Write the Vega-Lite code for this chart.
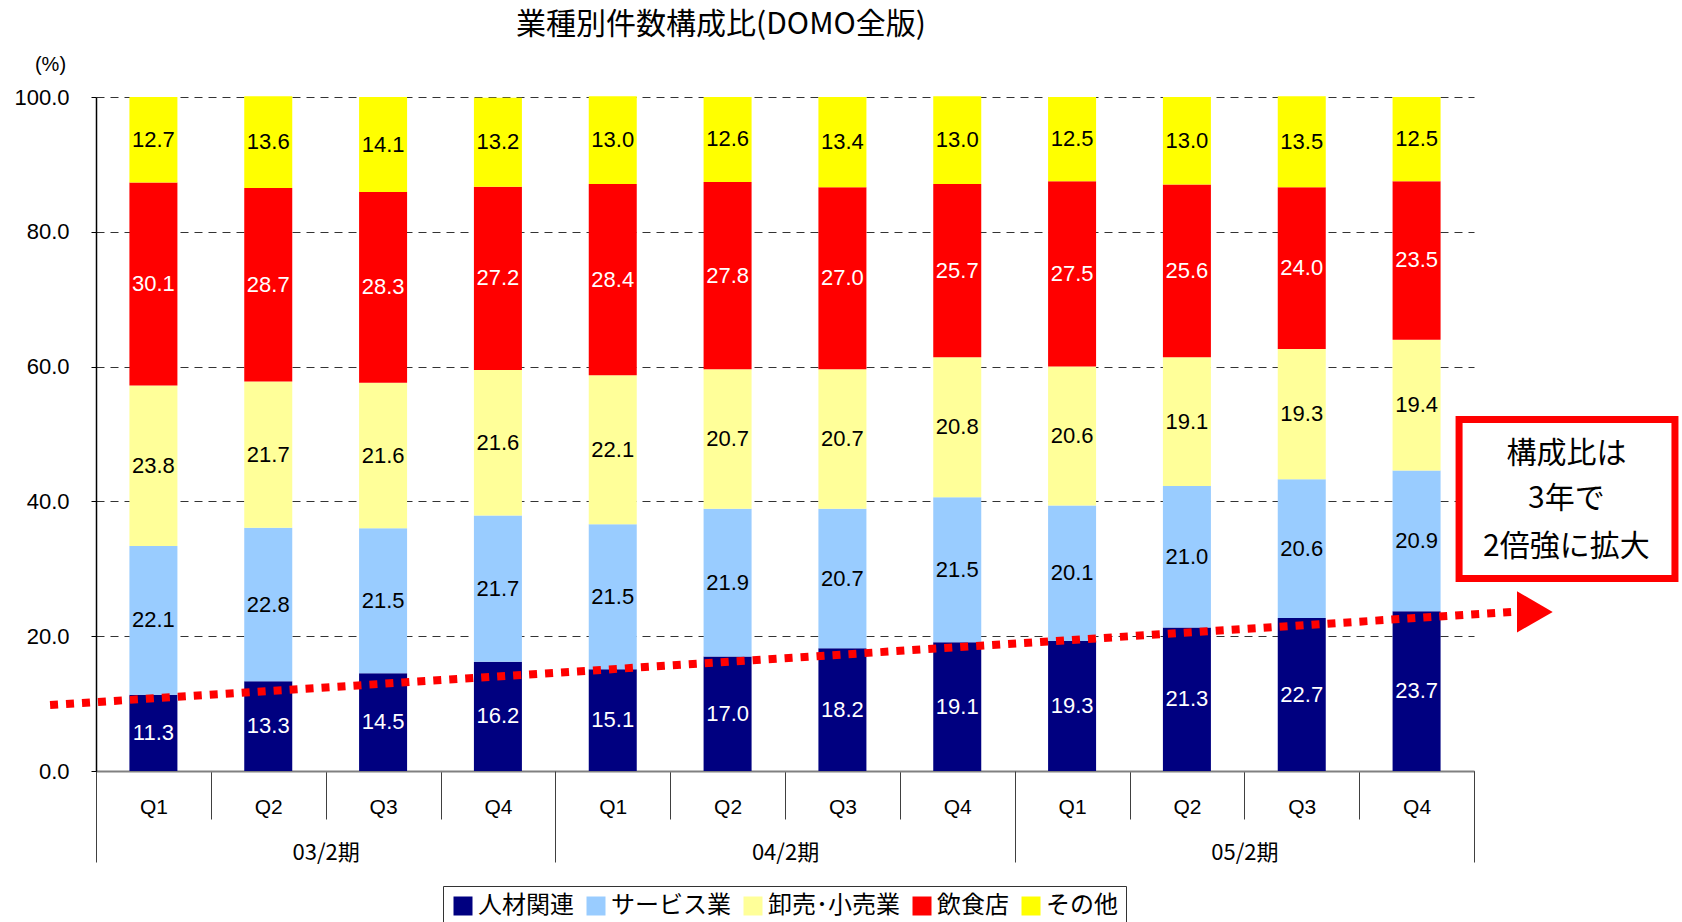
{
  "$schema": "https://vega.github.io/schema/vega-lite/v6.json",
  "autosize": {"type": "none"},
  "width": 1378,
  "height": 674,
  "padding": {"left": 96, "top": 97, "right": 208, "bottom": 151},
  "background": "white",
  "title": {"text": "業種別件数構成比(DOMO全版)", "font": "Noto Sans CJK JP", "fontSize": 30, "fontWeight": "normal", "color": "black", "anchor": "middle", "frame": "group", "dx": -64, "offset": -16, "baseline": "bottom"},
  "datasets": {
    "bars": [
      {"key": "03/2期 Q1", "cat": "人材関連", "o": 1, "value": 11.3},
      {"key": "03/2期 Q1", "cat": "サービス業", "o": 2, "value": 22.1},
      {"key": "03/2期 Q1", "cat": "卸売･小売業", "o": 3, "value": 23.8},
      {"key": "03/2期 Q1", "cat": "飲食店", "o": 4, "value": 30.1},
      {"key": "03/2期 Q1", "cat": "その他", "o": 5, "value": 12.7},
      {"key": "03/2期 Q2", "cat": "人材関連", "o": 1, "value": 13.3},
      {"key": "03/2期 Q2", "cat": "サービス業", "o": 2, "value": 22.8},
      {"key": "03/2期 Q2", "cat": "卸売･小売業", "o": 3, "value": 21.7},
      {"key": "03/2期 Q2", "cat": "飲食店", "o": 4, "value": 28.7},
      {"key": "03/2期 Q2", "cat": "その他", "o": 5, "value": 13.6},
      {"key": "03/2期 Q3", "cat": "人材関連", "o": 1, "value": 14.5},
      {"key": "03/2期 Q3", "cat": "サービス業", "o": 2, "value": 21.5},
      {"key": "03/2期 Q3", "cat": "卸売･小売業", "o": 3, "value": 21.6},
      {"key": "03/2期 Q3", "cat": "飲食店", "o": 4, "value": 28.3},
      {"key": "03/2期 Q3", "cat": "その他", "o": 5, "value": 14.1},
      {"key": "03/2期 Q4", "cat": "人材関連", "o": 1, "value": 16.2},
      {"key": "03/2期 Q4", "cat": "サービス業", "o": 2, "value": 21.7},
      {"key": "03/2期 Q4", "cat": "卸売･小売業", "o": 3, "value": 21.6},
      {"key": "03/2期 Q4", "cat": "飲食店", "o": 4, "value": 27.2},
      {"key": "03/2期 Q4", "cat": "その他", "o": 5, "value": 13.2},
      {"key": "04/2期 Q1", "cat": "人材関連", "o": 1, "value": 15.1},
      {"key": "04/2期 Q1", "cat": "サービス業", "o": 2, "value": 21.5},
      {"key": "04/2期 Q1", "cat": "卸売･小売業", "o": 3, "value": 22.1},
      {"key": "04/2期 Q1", "cat": "飲食店", "o": 4, "value": 28.4},
      {"key": "04/2期 Q1", "cat": "その他", "o": 5, "value": 13.0},
      {"key": "04/2期 Q2", "cat": "人材関連", "o": 1, "value": 17.0},
      {"key": "04/2期 Q2", "cat": "サービス業", "o": 2, "value": 21.9},
      {"key": "04/2期 Q2", "cat": "卸売･小売業", "o": 3, "value": 20.7},
      {"key": "04/2期 Q2", "cat": "飲食店", "o": 4, "value": 27.8},
      {"key": "04/2期 Q2", "cat": "その他", "o": 5, "value": 12.6},
      {"key": "04/2期 Q3", "cat": "人材関連", "o": 1, "value": 18.2},
      {"key": "04/2期 Q3", "cat": "サービス業", "o": 2, "value": 20.7},
      {"key": "04/2期 Q3", "cat": "卸売･小売業", "o": 3, "value": 20.7},
      {"key": "04/2期 Q3", "cat": "飲食店", "o": 4, "value": 27.0},
      {"key": "04/2期 Q3", "cat": "その他", "o": 5, "value": 13.4},
      {"key": "04/2期 Q4", "cat": "人材関連", "o": 1, "value": 19.1},
      {"key": "04/2期 Q4", "cat": "サービス業", "o": 2, "value": 21.5},
      {"key": "04/2期 Q4", "cat": "卸売･小売業", "o": 3, "value": 20.8},
      {"key": "04/2期 Q4", "cat": "飲食店", "o": 4, "value": 25.7},
      {"key": "04/2期 Q4", "cat": "その他", "o": 5, "value": 13.0},
      {"key": "05/2期 Q1", "cat": "人材関連", "o": 1, "value": 19.3},
      {"key": "05/2期 Q1", "cat": "サービス業", "o": 2, "value": 20.1},
      {"key": "05/2期 Q1", "cat": "卸売･小売業", "o": 3, "value": 20.6},
      {"key": "05/2期 Q1", "cat": "飲食店", "o": 4, "value": 27.5},
      {"key": "05/2期 Q1", "cat": "その他", "o": 5, "value": 12.5},
      {"key": "05/2期 Q2", "cat": "人材関連", "o": 1, "value": 21.3},
      {"key": "05/2期 Q2", "cat": "サービス業", "o": 2, "value": 21.0},
      {"key": "05/2期 Q2", "cat": "卸売･小売業", "o": 3, "value": 19.1},
      {"key": "05/2期 Q2", "cat": "飲食店", "o": 4, "value": 25.6},
      {"key": "05/2期 Q2", "cat": "その他", "o": 5, "value": 13.0},
      {"key": "05/2期 Q3", "cat": "人材関連", "o": 1, "value": 22.7},
      {"key": "05/2期 Q3", "cat": "サービス業", "o": 2, "value": 20.6},
      {"key": "05/2期 Q3", "cat": "卸売･小売業", "o": 3, "value": 19.3},
      {"key": "05/2期 Q3", "cat": "飲食店", "o": 4, "value": 24.0},
      {"key": "05/2期 Q3", "cat": "その他", "o": 5, "value": 13.5},
      {"key": "05/2期 Q4", "cat": "人材関連", "o": 1, "value": 23.7},
      {"key": "05/2期 Q4", "cat": "サービス業", "o": 2, "value": 20.9},
      {"key": "05/2期 Q4", "cat": "卸売･小売業", "o": 3, "value": 19.4},
      {"key": "05/2期 Q4", "cat": "飲食店", "o": 4, "value": 23.5},
      {"key": "05/2期 Q4", "cat": "その他", "o": 5, "value": 12.5}
    ],
    "years": [{"year": "03/2期"}, {"year": "04/2期"}, {"year": "05/2期"}],
    "trend": [{"pos": -0.40, "y": 9.8}, {"pos": 12.33, "y": 23.6}],
    "arrow": [{"pos": 12.53, "y": 23.6}],
    "box": [{"x1": 11.87, "x2": 13.75, "y1": 52.15, "y2": 28.56}],
    "note": [
      {"t": "構成比は", "pos": 12.805, "y": 47.0},
      {"t": "3年で", "pos": 12.805, "y": 40.4},
      {"t": "2倍強に拡大", "pos": 12.805, "y": 33.2}
    ]
  },
  "resolve": {"scale": {"x": "independent"}, "axis": {"x": "independent"}},
  "layer": [
    {
      "data": {"name": "bars"},
      "transform": [{"stack": "value", "groupby": ["key"], "sort": [{"field": "o", "order": "ascending"}], "as": ["v0", "v1"]}],
      "mark": {"type": "bar", "width": {"band": 0.418}},
      "encoding": {
        "x": {"field": "key", "type": "nominal", "sort": null, "scale": {"type": "band", "paddingInner": 0, "paddingOuter": 0},
          "axis": {"orient": "bottom", "title": null, "tickBand": "extent", "tickSize": 48, "tickColor": "#404040", "tickWidth": 1, "domainColor": "#808080", "domainWidth": 2, "labelExpr": "split(datum.value, ' ')[1]", "labelFont": "Liberation Sans", "labelFontSize": 21, "labelColor": "black", "labelPadding": -23, "labelAngle": 0, "grid": false}},
        "y": {"field": "v0", "type": "quantitative", "scale": {"domain": [0, 100], "nice": false}, "title": "(%)", "axis": {"values": [0, 20, 40, 60, 80, 100]}},
        "y2": {"field": "v1"},
        "color": {"field": "cat", "type": "nominal",
          "scale": {"domain": ["人材関連", "サービス業", "卸売･小売業", "飲食店", "その他"], "range": ["#000080", "#99CCFF", "#FFFF99", "#FF0000", "#FFFF00"]},
          "legend": {"orient": "none", "legendX": 347, "legendY": 789, "direction": "horizontal", "title": null, "symbolType": "square", "symbolSize": 361, "symbolStrokeWidth": 0, "symbolOpacity": 1, "labelFont": "Noto Sans CJK JP", "labelFontSize": 24, "labelColor": "black", "strokeColor": "#333333", "fillColor": "white", "padding": 8, "columnPadding": 10, "labelOffset": 3}}
      }
    },
    {
      "data": {"name": "trend"},
      "mark": {"type": "line", "color": "#FF0000", "strokeWidth": 8, "strokeDash": [8, 8], "clip": false},
      "encoding": {
        "x": {"field": "pos", "type": "quantitative", "scale": {"domain": [0, 12], "nice": false, "zero": false}, "axis": null},
        "y": {"field": "y", "type": "quantitative", "scale": {"domain": [0, 100], "nice": false}, "title": "(%)", "axis": {"values": [0, 20, 40, 60, 80, 100]}}
      }
    },
    {
      "data": {"name": "bars"},
      "transform": [
        {"stack": "value", "groupby": ["key"], "sort": [{"field": "o", "order": "ascending"}], "as": ["v0", "v1"]},
        {"calculate": "(datum.v0 + datum.v1) / 2", "as": "mid"}
      ],
      "mark": {"type": "text", "font": "Liberation Sans", "fontSize": 22, "align": "center", "baseline": "middle"},
      "encoding": {
        "x": {"field": "key", "type": "nominal", "sort": null, "scale": {"type": "band", "paddingInner": 0, "paddingOuter": 0}, "axis": null},
        "y": {"field": "mid", "type": "quantitative", "scale": {"domain": [0, 100], "nice": false}, "title": "(%)", "axis": {"values": [0, 20, 40, 60, 80, 100]}},
        "text": {"field": "value", "type": "quantitative", "format": ".1f"},
        "color": {"condition": {"test": "datum.cat === '人材関連' || datum.cat === '飲食店'", "value": "white"}, "value": "black"}
      }
    },
    {
      "data": {"name": "arrow"},
      "mark": {"type": "point", "shape": "triangle-right", "size": 1700, "filled": true, "color": "#FF0000", "opacity": 1, "clip": false},
      "encoding": {
        "x": {"field": "pos", "type": "quantitative", "scale": {"domain": [0, 12], "nice": false, "zero": false}, "axis": null},
        "y": {"field": "y", "type": "quantitative", "scale": {"domain": [0, 100], "nice": false}, "title": "(%)", "axis": {"values": [0, 20, 40, 60, 80, 100]}}
      }
    },
    {
      "data": {"name": "box"},
      "mark": {"type": "rect", "fill": "white", "stroke": "#FF0000", "strokeWidth": 7, "clip": false},
      "encoding": {
        "x": {"field": "x1", "type": "quantitative", "scale": {"domain": [0, 12], "nice": false, "zero": false}, "axis": null},
        "x2": {"field": "x2"},
        "y": {"field": "y1", "type": "quantitative", "scale": {"domain": [0, 100], "nice": false}, "title": "(%)", "axis": {"values": [0, 20, 40, 60, 80, 100]}},
        "y2": {"field": "y2"}
      }
    },
    {
      "data": {"name": "note"},
      "mark": {"type": "text", "font": "Noto Sans CJK JP", "fontSize": 30, "align": "center", "baseline": "middle", "color": "black", "clip": false},
      "encoding": {
        "x": {"field": "pos", "type": "quantitative", "scale": {"domain": [0, 12], "nice": false, "zero": false}, "axis": null},
        "y": {"field": "y", "type": "quantitative", "scale": {"domain": [0, 100], "nice": false}, "title": "(%)", "axis": {"values": [0, 20, 40, 60, 80, 100]}},
        "text": {"field": "t", "type": "nominal"}
      }
    },
    {
      "data": {"name": "years"},
      "mark": {"type": "point", "opacity": 0},
      "encoding": {
        "x": {"field": "year", "type": "nominal", "sort": null, "scale": {"type": "band", "paddingInner": 0, "paddingOuter": 0},
          "axis": {"orient": "bottom", "title": null, "domain": false, "tickBand": "extent", "tickSize": 91, "tickColor": "#404040", "tickWidth": 1, "labelFont": "Noto Sans CJK JP", "labelFontSize": 22, "labelColor": "black", "labelPadding": -20, "labelAngle": 0, "grid": false}}
      }
    }
  ],
  "config": {
    "view": {"stroke": null},
    "font": "Liberation Sans",
    "axisY": {
      "format": ".1f",
      "domainColor": "black",
      "domainWidth": 1.5,
      "tickColor": "black",
      "tickSize": 5,
      "labelFont": "Liberation Sans",
      "labelFontSize": 22,
      "labelColor": "black",
      "labelPadding": 22,
      "grid": true,
      "gridDash": [8, 6],
      "gridColor": "#333333",
      "gridWidth": 1,
      "titleAngle": 0,
      "titleX": -46,
      "titleY": -33,
      "titleAlign": "center",
      "titleBaseline": "middle",
      "titleFont": "Liberation Sans",
      "titleFontSize": 20,
      "titleFontWeight": "normal",
      "titleColor": "black"
    }
  }
}
